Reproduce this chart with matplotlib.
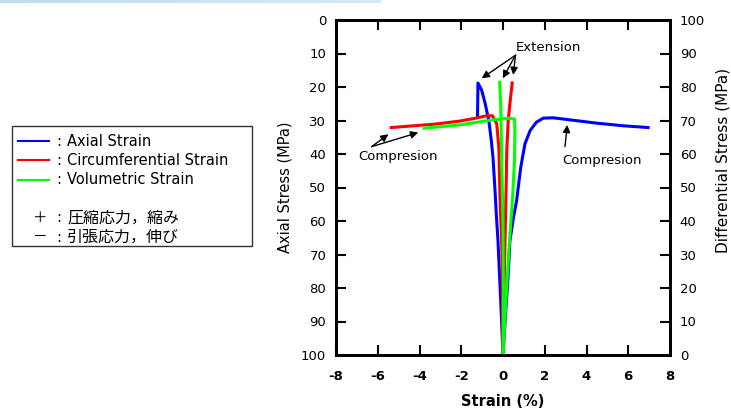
import matplotlib
matplotlib.use("Agg")
import numpy as np
import matplotlib.pyplot as plt
from matplotlib.lines import Line2D
from matplotlib.patches import Rectangle

plt.rcParams['font.family'] = ['DejaVu Sans']

# ---------------------------------------------------------------
# data (strain %, axial stress MPa)
# ---------------------------------------------------------------
axial_ext_x = [0.0, -0.08, -0.16, -0.24, -0.32, -0.40, -0.48, -0.56, -0.68, -0.86, -1.02, -1.20, -1.22]
axial_ext_y = [100, 88, 77, 66, 58, 49, 41, 36, 30, 24.8, 21, 18.8, 28.8]

axial_cmp_x = [0.0, 0.12, 0.24, 0.33, 0.5, 0.65, 0.85, 1.05, 1.3, 1.6, 1.93, 2.4, 3.2, 4.5, 5.8, 6.95]
axial_cmp_y = [100, 88, 77, 66, 59, 54, 44, 37, 33, 30.5, 29.3, 29.2, 29.8, 30.8, 31.6, 32.1]

circ_cmp_x = [0.0, -0.03, -0.06, -0.14, -0.2, -0.3, -0.5, -0.8, -1.3, -2.1, -3.3, -5.35]
circ_cmp_y = [100, 80, 67, 54, 38, 31, 28.6, 28.6, 29.3, 30.2, 31.1, 32.1]

circ_ext_x = [0.0, 0.05, 0.1, 0.15, 0.18, 0.25, 0.33, 0.44]
circ_ext_y = [100, 80, 65, 50, 39, 30, 25, 18.8]

vol_a_x = [0.0, 0.15, 0.3, 0.45, 0.55, 0.57, 0.55, 0.3, -0.6, -2.06, -3.78]
vol_a_y = [100, 83, 67, 54, 42, 32, 29.6, 29.3, 29.9, 31.3, 32.3]

vol_b_x = [0.0, 0.02, 0.0, -0.05, -0.08, -0.11, -0.16]
vol_b_y = [100, 80, 60, 45, 35, 25, 18.6]

x_ticks = [-8, -6, -4, -2, 0, 2, 4, 6, 8]
y_ticks = [0, 10, 20, 30, 40, 50, 60, 70, 80, 90, 100]

W, H = 731.0, 412.0
def fx(px):
    return px / W
def fy(py):
    return 1 - py / H

fig = plt.figure(figsize=(7.31, 4.12), dpi=100)

# faint blue strip along the top-left edge
strip = fig.add_axes([0, fy(3), fx(380), fy(0) - fy(3)])
strip.imshow(np.linspace(1, 0, 200).reshape(1, -1), aspect='auto', cmap='Blues',
             vmin=-2.5, vmax=3.5, alpha=0.35)
strip.axis('off')

ax = fig.add_axes([fx(336), fy(355), fx(670) - fx(336), fy(20) - fy(355)])

lw = 2.2
ax.plot(axial_ext_x, axial_ext_y, color='#0000ff', lw=lw)
ax.plot(axial_cmp_x, axial_cmp_y, color='#0000ff', lw=lw)
ax.plot(circ_cmp_x, circ_cmp_y, color='#ff0000', lw=lw)
ax.plot(circ_ext_x, circ_ext_y, color='#ff0000', lw=lw)
ax.plot(vol_a_x, vol_a_y, color='#00ff00', lw=lw)
ax.plot(vol_b_x, vol_b_y, color='#00ff00', lw=lw)

ax.set_xlim(-8, 8)
ax.set_ylim(100, 0)
ax.set_xticks(x_ticks)
ax.set_xticklabels([str(t) for t in x_ticks], fontweight='bold', fontsize=9.5)
ax.set_yticks(y_ticks)
ax.set_yticklabels([str(t) for t in y_ticks], fontsize=9.5)
ax.tick_params(direction='in', length=7, width=1.5, top=True)
ax.tick_params(axis='x', pad=11)
ax.tick_params(axis='y', pad=7)
ax.set_xlabel("Strain (%)", fontweight='bold', fontsize=10.5, labelpad=8)
ax.set_ylabel("Axial Stress (MPa)", fontsize=10.5, labelpad=6)
for s in ax.spines.values():
    s.set_linewidth(2)

ax2 = ax.twinx()
ax2.set_ylim(0, 100)
ax2.set_yticks(y_ticks)
ax2.set_yticklabels([str(t) for t in y_ticks], fontsize=9.5)
ax2.tick_params(direction='in', length=7, width=1.5, pad=7)
for s in ax2.spines.values():
    s.set_linewidth(2)
fig.text(fx(723), fy(160), "Differential Stress (MPa)", rotation=90,
         ha='center', va='center', fontsize=11)

# annotations
arr = dict(arrowstyle='-|>', color='black', lw=1, mutation_scale=11, shrinkA=0, shrinkB=0)
ax.text(2.16, 8.3, "Extension", ha='center', va='center', fontsize=9.5)
for hx, hy in [(-1.02, 17.4), (-0.01, 17.4), (0.49, 16.4)]:
    ax.annotate("", xy=(hx, hy), xytext=(0.6, 10.5), arrowprops=arr)

ax.text(-5.03, 40.8, "Compresion", ha='center', va='center', fontsize=9.5)
for hx, hy in [(-5.49, 34.1), (-4.06, 33.6)]:
    ax.annotate("", xy=(hx, hy), xytext=(-6.29, 37.8), arrowprops=arr)

ax.text(4.74, 41.8, "Compresion", ha='center', va='center', fontsize=9.5)
ax.annotate("", xy=(3.08, 31.3), xytext=(2.97, 37.8), arrowprops=arr)

# legend box
fig.patches.append(Rectangle((fx(12), fy(246)), fx(252) - fx(12), fy(126) - fy(246),
                             transform=fig.transFigure, fill=False, ec='#333333', lw=1))
rows = [("#0000ff", "Axial Strain", 141), ("#ff0000", "Circumferential Strain", 160),
        ("#00ff00", "Volumetric Strain", 180)]
for col, lab, py in rows:
    fig.lines.append(Line2D([fx(18), fx(49)], [fy(py), fy(py)], transform=fig.transFigure,
                            color=col, lw=1.5))
    fig.text(fx(56), fy(py), ":", va='center', fontsize=10.5)
    fig.text(fx(67), fy(py), lab, va='center', fontsize=10.5)

jp = ['Noto Sans CJK JP', 'DejaVu Sans']
fig.text(fx(40), fy(218), "＋", ha='center', va='center', fontsize=10.5, family=jp)
fig.text(fx(56), fy(218), ":", va='center', fontsize=10.5)
fig.text(fx(67), fy(218), "圧縮応力，縮み", va='center', fontsize=11.5, family=jp)
fig.text(fx(40), fy(237), "－", ha='center', va='center', fontsize=10.5, family=jp)
fig.text(fx(56), fy(237), ":", va='center', fontsize=10.5)
fig.text(fx(67), fy(237), "引張応力，伸び", va='center', fontsize=11.5, family=jp)

fig.savefig("out.png", dpi=100)
